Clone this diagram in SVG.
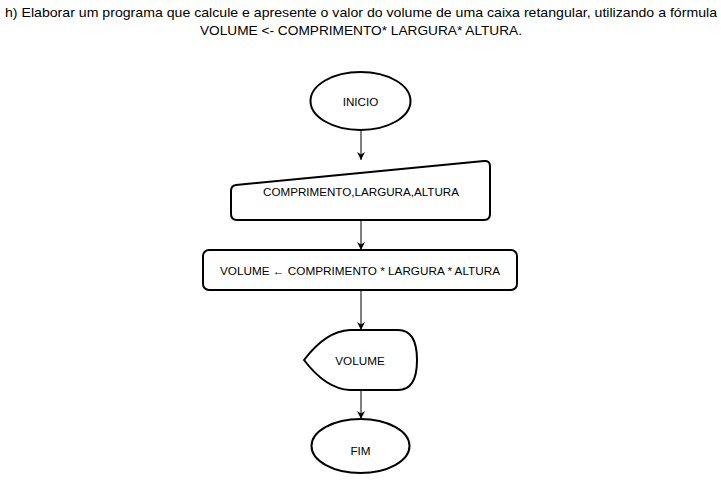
<svg xmlns="http://www.w3.org/2000/svg" width="721" height="482" viewBox="0 0 721 482">
<defs>
<marker id="arr" viewBox="0 0 10 10" refX="10" refY="5" markerWidth="8" markerHeight="8" markerUnits="userSpaceOnUse" orient="auto">
<path d="M0,0 L10,5 L0,10 L3,5 Z" fill="#000"/>
</marker>
<style>
.s{fill:#fff;stroke:#000;stroke-width:2}
.t{font-family:"Liberation Sans",Arial,sans-serif;font-size:11.7px;fill:#000;text-anchor:middle;dominant-baseline:central}
.h{font-family:"Liberation Sans",Arial,sans-serif;font-size:13px;fill:#000;text-anchor:middle}
.c{stroke:#000;stroke-width:1;fill:none;marker-end:url(#arr)}
</style>
</defs>
<rect width="721" height="482" fill="#fff"/>
<g id="title">
<text class="h" x="361" y="17" textLength="712" lengthAdjust="spacingAndGlyphs">h) Elaborar um programa que calcule e apresente o valor do volume de uma caixa retangular, utilizando a fórmula</text>
<text class="h" x="361" y="35" textLength="322" lengthAdjust="spacingAndGlyphs">VOLUME &lt;- COMPRIMENTO* LARGURA* ALTURA.</text>
</g>
<g id="connectors">
<line class="c" x1="361" y1="130" x2="361" y2="160"/>
<line class="c" x1="361" y1="220" x2="361" y2="250"/>
<line class="c" x1="361" y1="290" x2="361" y2="330"/>
<line class="c" x1="361" y1="390" x2="361" y2="419"/>
</g>
<g id="inicio">
<ellipse class="s" cx="360.5" cy="101" rx="50" ry="29"/>
<text class="t" x="360.5" y="101">INICIO</text>
</g>
<g id="entrada">
<path class="s" d="M236,185 L484,161 Q490,160.5 490,166 L490,214 Q490,220 484,220 L237,220 Q231,220 231,214 L231,191 Q231,185.5 236,185 Z"/>
<text class="t" x="361" y="191" textLength="196" lengthAdjust="spacingAndGlyphs">COMPRIMENTO,LARGURA,ALTURA</text>
</g>
<g id="processo">
<rect class="s" x="203" y="250" width="314" height="40" rx="6" ry="6"/>
<text class="t" x="360" y="270" textLength="280" lengthAdjust="spacingAndGlyphs">VOLUME ← COMPRIMENTO * LARGURA * ALTURA</text>
</g>
<g id="saida">
<path class="s" d="M304,360 Q326,331 350,330 L398,330 Q417,330 417,360 Q417,390 398,390 L350,390 Q326,389 304,360 Z"/>
<text class="t" x="360" y="360">VOLUME</text>
</g>
<g id="fim">
<ellipse class="s" cx="360.5" cy="446" rx="49" ry="27"/>
<text class="t" x="360.5" y="450">FIM</text>
</g>
</svg>
